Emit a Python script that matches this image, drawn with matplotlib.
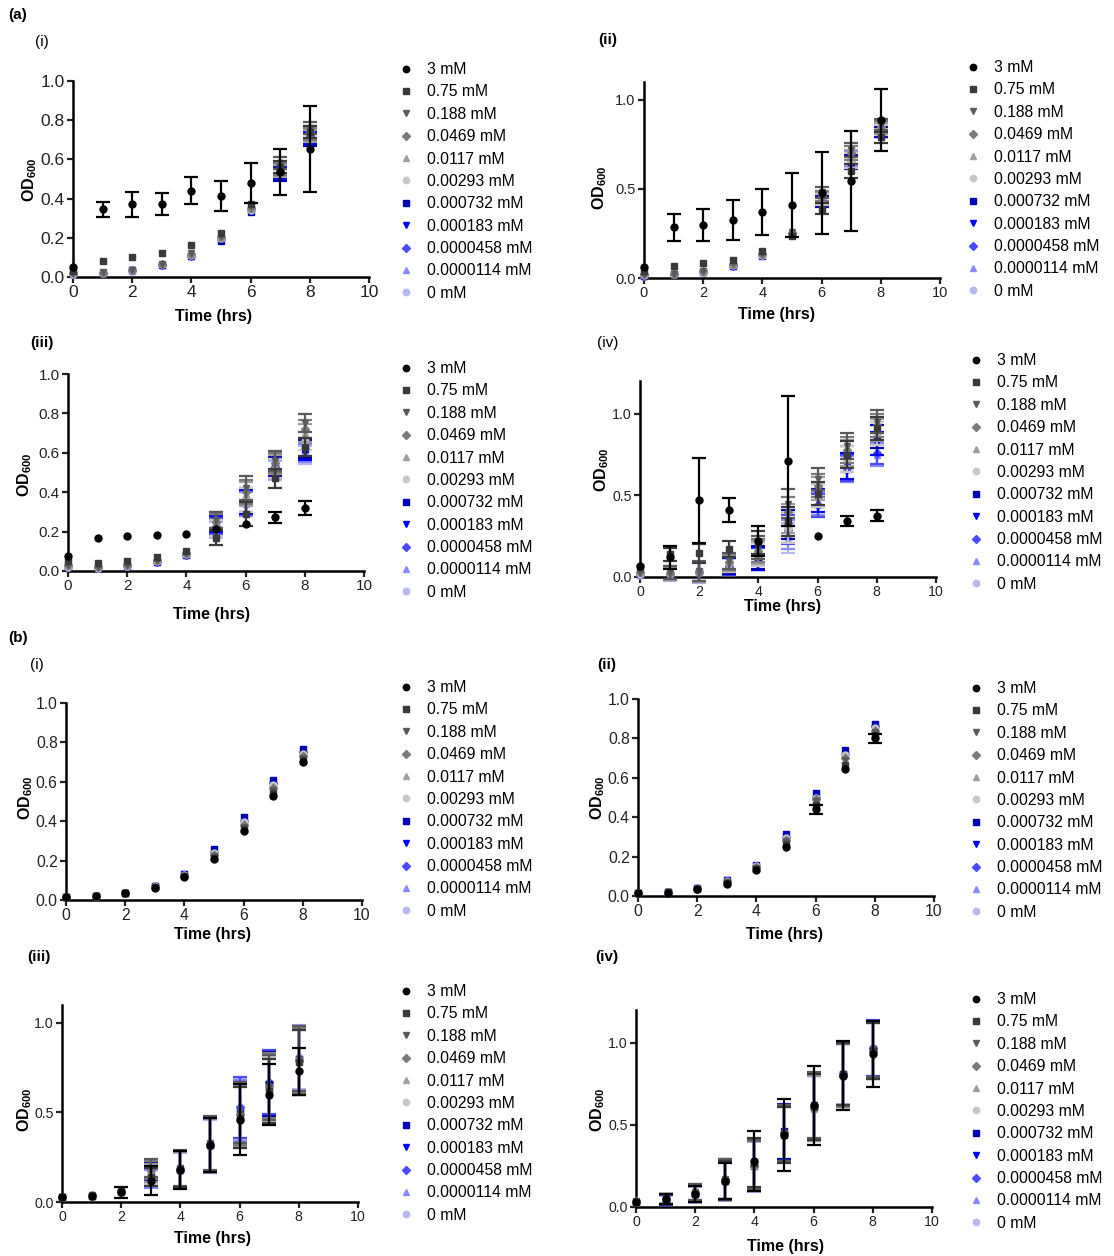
import matplotlib
matplotlib.use("Agg")
import matplotlib.pyplot as plt
import numpy as np
from matplotlib.lines import Line2D

plt.rcParams["font.family"] = ["Liberation Sans", "DejaVu Sans"]
plt.rcParams["mathtext.fontset"] = "custom"
plt.rcParams["mathtext.rm"] = "Liberation Sans"
plt.rcParams["mathtext.bf"] = "Liberation Sans:bold"

TIME = [0, 1, 2, 3, 4, 5, 6, 7, 8]
CONC = ["3 mM", "0.75 mM", "0.188 mM", "0.0469 mM", "0.0117 mM", "0.00293 mM",
        "0.000732 mM", "0.000183 mM", "0.0000458 mM", "0.0000114 mM", "0 mM"]
MARKERS = ["o", "s", "v", "D", "^", "o", "s", "v", "D", "^", "o"]
COLORS = ["#000000", "#3a3a3a", "#5a5a5a", "#7a7a7a", "#9e9e9e", "#c8c8c8",
          "#0000b4", "#0000ff", "#4a4aff", "#8a8aff", "#b8b8f0"]

# ---- (a)(i) ----
A1 = [[0.05, 0.345, 0.37, 0.372, 0.44, 0.415, 0.48, 0.535, 0.655],
      [0.03, 0.08, 0.10, 0.122, 0.165, 0.225, 0.37, 0.56, 0.74],
      [0.02, 0.025, 0.038, 0.068, 0.12, 0.21, 0.36, 0.58, 0.76],
      [0.02, 0.022, 0.036, 0.066, 0.115, 0.205, 0.35, 0.55, 0.73],
      [0.018, 0.022, 0.035, 0.065, 0.112, 0.20, 0.345, 0.54, 0.72],
      [0.015, 0.02, 0.035, 0.064, 0.11, 0.20, 0.34, 0.55, 0.74],
      [0.015, 0.02, 0.034, 0.062, 0.108, 0.185, 0.33, 0.52, 0.70],
      [0.015, 0.02, 0.034, 0.062, 0.106, 0.19, 0.335, 0.53, 0.71],
      [0.014, 0.02, 0.034, 0.06, 0.105, 0.195, 0.34, 0.54, 0.72],
      [0.014, 0.02, 0.033, 0.06, 0.105, 0.195, 0.345, 0.55, 0.73],
      [0.014, 0.02, 0.033, 0.061, 0.106, 0.20, 0.35, 0.56, 0.74]]
A1_SD_3MM = [0.005, 0.04, 0.065, 0.055, 0.07, 0.077, 0.10, 0.118, 0.22]
A1_SD = [0.003, 0.003, 0.004, 0.005, 0.008, 0.01, 0.02, 0.03, 0.03]

# ---- (a)(ii) ----
A2 = [[0.06, 0.285, 0.30, 0.325, 0.37, 0.41, 0.475, 0.545, 0.885],
      [0.04, 0.07, 0.085, 0.10, 0.15, 0.235, 0.39, 0.60, 0.79],
      [0.02, 0.025, 0.04, 0.09, 0.14, 0.26, 0.48, 0.72, 0.86],
      [0.02, 0.022, 0.038, 0.08, 0.135, 0.255, 0.46, 0.70, 0.85],
      [0.018, 0.022, 0.036, 0.075, 0.13, 0.25, 0.45, 0.68, 0.84],
      [0.015, 0.02, 0.035, 0.072, 0.13, 0.25, 0.44, 0.66, 0.83],
      [0.012, 0.02, 0.034, 0.068, 0.125, 0.245, 0.43, 0.65, 0.82],
      [0.012, 0.02, 0.034, 0.068, 0.125, 0.245, 0.435, 0.655, 0.82],
      [0.012, 0.02, 0.035, 0.068, 0.127, 0.25, 0.44, 0.66, 0.82],
      [0.012, 0.02, 0.035, 0.07, 0.128, 0.25, 0.445, 0.665, 0.825],
      [0.012, 0.02, 0.035, 0.07, 0.13, 0.255, 0.45, 0.67, 0.83]]
A2_SD_3MM = [0.01, 0.075, 0.09, 0.11, 0.13, 0.18, 0.23, 0.28, 0.175]
A2_SD = [0.003, 0.003, 0.004, 0.006, 0.008, 0.015, 0.03, 0.04, 0.03]

# ---- (a)(iii) ----
A3 = [[0.075, 0.168, 0.178, 0.182, 0.19, 0.215, 0.237, 0.272, 0.32],
      [0.05, 0.04, 0.05, 0.07, 0.10, 0.17, 0.29, 0.47, 0.63],
      [0.03, 0.02, 0.03, 0.055, 0.09, 0.26, 0.42, 0.56, 0.75],
      [0.03, 0.02, 0.03, 0.055, 0.09, 0.25, 0.40, 0.55, 0.72],
      [0.025, 0.018, 0.028, 0.052, 0.088, 0.25, 0.39, 0.54, 0.70],
      [0.02, 0.016, 0.027, 0.05, 0.085, 0.22, 0.36, 0.52, 0.66],
      [0.02, 0.015, 0.025, 0.048, 0.082, 0.26, 0.36, 0.53, 0.62],
      [0.02, 0.015, 0.025, 0.048, 0.082, 0.24, 0.35, 0.52, 0.61],
      [0.02, 0.015, 0.025, 0.048, 0.08, 0.23, 0.35, 0.53, 0.62],
      [0.02, 0.015, 0.025, 0.048, 0.08, 0.22, 0.34, 0.52, 0.60],
      [0.02, 0.015, 0.025, 0.048, 0.08, 0.21, 0.34, 0.51, 0.59]]
A3_SD_3MM = [0.005, 0.005, 0.005, 0.005, 0.006, 0.015, 0.02, 0.03, 0.035]
A3_SD = [0.004, 0.004, 0.004, 0.005, 0.006, 0.04, 0.06, 0.05, 0.045]

# ---- (a)(iv) ----
A4 = [[0.07, 0.12, 0.47, 0.41, 0.22, 0.71, 0.25, 0.345, 0.375],
      [0.06, 0.14, 0.145, 0.17, 0.21, 0.34, 0.51, 0.75, 0.91],
      [0.03, 0.03, 0.035, 0.10, 0.18, 0.45, 0.60, 0.80, 0.95],
      [0.03, 0.025, 0.033, 0.09, 0.16, 0.40, 0.56, 0.78, 0.93],
      [0.025, 0.022, 0.032, 0.085, 0.15, 0.36, 0.54, 0.76, 0.90],
      [0.02, 0.02, 0.03, 0.08, 0.14, 0.30, 0.50, 0.72, 0.88],
      [0.02, 0.02, 0.03, 0.07, 0.12, 0.32, 0.50, 0.72, 0.86],
      [0.02, 0.02, 0.03, 0.068, 0.115, 0.30, 0.47, 0.68, 0.82],
      [0.02, 0.02, 0.03, 0.065, 0.11, 0.29, 0.44, 0.67, 0.76],
      [0.015, 0.02, 0.03, 0.065, 0.11, 0.26, 0.45, 0.66, 0.75],
      [0.015, 0.02, 0.03, 0.065, 0.11, 0.24, 0.44, 0.66, 0.75]]
A4_SD_3MM = [0.01, 0.07, 0.26, 0.075, 0.09, 0.40, 0.02, 0.03, 0.035]
A4_SD = [0.005, 0.04, 0.06, 0.05, 0.07, 0.09, 0.07, 0.08, 0.07]

# ---- (b)(i) ----
B1 = [[0.015, 0.018, 0.033, 0.062, 0.118, 0.21, 0.35, 0.53, 0.70],
      [0.015, 0.018, 0.034, 0.064, 0.12, 0.215, 0.36, 0.545, 0.71],
      [0.015, 0.019, 0.035, 0.066, 0.122, 0.225, 0.37, 0.56, 0.72],
      [0.015, 0.019, 0.035, 0.067, 0.124, 0.23, 0.38, 0.57, 0.73],
      [0.015, 0.02, 0.036, 0.068, 0.125, 0.235, 0.39, 0.58, 0.735],
      [0.015, 0.02, 0.036, 0.069, 0.126, 0.24, 0.395, 0.585, 0.74],
      [0.016, 0.021, 0.038, 0.072, 0.13, 0.26, 0.42, 0.61, 0.765],
      [0.016, 0.021, 0.038, 0.071, 0.13, 0.255, 0.415, 0.605, 0.76],
      [0.016, 0.02, 0.037, 0.07, 0.128, 0.245, 0.40, 0.595, 0.75],
      [0.016, 0.02, 0.037, 0.07, 0.128, 0.245, 0.40, 0.59, 0.745],
      [0.016, 0.02, 0.037, 0.07, 0.127, 0.24, 0.40, 0.59, 0.745]]
B1_SD_3MM = [0.002, 0.002, 0.003, 0.004, 0.006, 0.01, 0.012, 0.012, 0.012]
B1_SD = [0.002, 0.002, 0.003, 0.004, 0.006, 0.01, 0.012, 0.012, 0.012]

# ---- (b)(ii) ----
B2 = [[0.015, 0.017, 0.033, 0.063, 0.133, 0.25, 0.44, 0.645, 0.80],
      [0.015, 0.018, 0.035, 0.066, 0.138, 0.265, 0.46, 0.665, 0.815],
      [0.015, 0.019, 0.037, 0.07, 0.143, 0.28, 0.48, 0.69, 0.83],
      [0.015, 0.02, 0.038, 0.072, 0.146, 0.285, 0.49, 0.70, 0.84],
      [0.015, 0.02, 0.039, 0.074, 0.148, 0.29, 0.50, 0.71, 0.85],
      [0.015, 0.021, 0.04, 0.076, 0.15, 0.295, 0.50, 0.715, 0.855],
      [0.016, 0.022, 0.042, 0.08, 0.155, 0.315, 0.525, 0.74, 0.875],
      [0.016, 0.022, 0.041, 0.079, 0.154, 0.31, 0.52, 0.735, 0.87],
      [0.016, 0.022, 0.04, 0.078, 0.152, 0.30, 0.505, 0.72, 0.865],
      [0.016, 0.021, 0.04, 0.077, 0.151, 0.30, 0.505, 0.72, 0.86],
      [0.016, 0.021, 0.04, 0.077, 0.15, 0.295, 0.50, 0.715, 0.86]]
B2_SD_3MM = [0.002, 0.002, 0.003, 0.004, 0.006, 0.012, 0.024, 0.02, 0.022]
B2_SD = [0.002, 0.002, 0.003, 0.004, 0.006, 0.01, 0.015, 0.015, 0.015]

# ---- (b)(iii) ----
B3 = [[0.03, 0.035, 0.055, 0.12, 0.18, 0.32, 0.46, 0.60, 0.73],
      [0.03, 0.035, 0.06, 0.14, 0.185, 0.32, 0.47, 0.62, 0.78],
      [0.03, 0.04, 0.06, 0.19, 0.19, 0.33, 0.50, 0.64, 0.80],
      [0.03, 0.038, 0.06, 0.18, 0.185, 0.32, 0.49, 0.65, 0.79],
      [0.028, 0.036, 0.058, 0.16, 0.18, 0.32, 0.48, 0.64, 0.78],
      [0.028, 0.036, 0.058, 0.15, 0.18, 0.32, 0.47, 0.63, 0.80],
      [0.028, 0.035, 0.056, 0.17, 0.18, 0.32, 0.50, 0.66, 0.80],
      [0.028, 0.035, 0.056, 0.15, 0.18, 0.32, 0.48, 0.65, 0.79],
      [0.028, 0.035, 0.056, 0.14, 0.18, 0.32, 0.53, 0.67, 0.80],
      [0.028, 0.035, 0.056, 0.13, 0.18, 0.32, 0.51, 0.66, 0.80],
      [0.028, 0.035, 0.056, 0.14, 0.18, 0.31, 0.52, 0.66, 0.81]]
B3_SD_3MM = [0.01, 0.01, 0.03, 0.08, 0.105, 0.15, 0.20, 0.17, 0.13]
B3_SD = [0.01, 0.01, 0.02, 0.05, 0.10, 0.15, 0.17, 0.18, 0.18]

# ---- (b)(iv) ----
B4 = [[0.03, 0.05, 0.08, 0.16, 0.28, 0.44, 0.62, 0.80, 0.93],
      [0.03, 0.05, 0.08, 0.16, 0.27, 0.44, 0.61, 0.81, 0.95],
      [0.035, 0.05, 0.09, 0.17, 0.26, 0.45, 0.62, 0.81, 0.96],
      [0.035, 0.05, 0.09, 0.17, 0.25, 0.45, 0.61, 0.80, 0.95],
      [0.03, 0.05, 0.085, 0.16, 0.26, 0.45, 0.60, 0.81, 0.96],
      [0.03, 0.05, 0.085, 0.17, 0.25, 0.44, 0.61, 0.80, 0.95],
      [0.03, 0.045, 0.08, 0.16, 0.25, 0.46, 0.61, 0.81, 0.96],
      [0.03, 0.045, 0.08, 0.16, 0.25, 0.45, 0.60, 0.80, 0.96],
      [0.03, 0.045, 0.08, 0.16, 0.25, 0.45, 0.61, 0.81, 0.97],
      [0.03, 0.045, 0.08, 0.16, 0.25, 0.45, 0.61, 0.81, 0.96],
      [0.03, 0.045, 0.08, 0.16, 0.25, 0.45, 0.61, 0.81, 0.96]]
B4_SD_3MM = [0.01, 0.03, 0.05, 0.11, 0.18, 0.22, 0.24, 0.21, 0.20]
B4_SD = [0.01, 0.03, 0.05, 0.12, 0.15, 0.17, 0.20, 0.19, 0.17]

W, H = 1114, 1256
fig = plt.figure(figsize=(W / 100, H / 100), dpi=100)

# layout in pixels: axis left, axis bottom, axis top, ymax, ystep, tick size,
# xlabel centre (x, y), ylabel centre (x, y), legend top-left, tag, tag pos, tag bold
panels = [
    (A1, A1_SD_3MM, A1_SD, 73, 277, 81, 1.0, 0.2, 12.5, (214, 316), (30, 180), (398, 62), "(i)", (35, 42), False),
    (A2, A2_SD_3MM, A2_SD, 644, 278, 82, 1.1, 0.5, 10.5, (776, 314), (600, 188), (965, 60), "(ii)", (598, 40), True),
    (A3, A3_SD_3MM, A3_SD, 68, 571, 374, 1.0, 0.2, 11, (212, 615), (25, 475), (398, 361), "(iii)", (30, 343), True),
    (A4, A4_SD_3MM, A4_SD, 640, 577, 381, 1.2, 0.5, 10.2, (783, 607), (602, 470), (968, 353), "(iv)", (597, 343), False),
    (B1, B1_SD_3MM, B1_SD, 66, 900, 703, 1.0, 0.2, 11.3, (213, 934), (26, 798), (398, 680), "(i)", (30, 665), False),
    (B2, B2_SD_3MM, B2_SD, 638, 896, 699, 1.0, 0.2, 11.3, (785, 934), (598, 798), (968, 681), "(ii)", (597, 665), True),
    (B3, B3_SD_3MM, B3_SD, 62, 1202, 1005, 1.1, 0.5, 10.2, (213, 1238), (25, 1110), (398, 984), "(iii)", (27, 957), True),
    (B4, B4_SD_3MM, B4_SD, 636, 1207, 1010, 1.2, 0.5, 10.2, (785, 1247), (598, 1110), (968, 992), "(iv)", (595, 957), True),
]

AXW = 296
for (means, sd3, sd, x0, yb, yt, ymax, ystep, tfs, xl, yl, lg, tag, tagpos, tagbold) in panels:
    ax = fig.add_axes([x0 / W, 1 - yb / H, AXW / W, (yb - yt) / H])
    px_per_unit = (yb - yt) / ymax
    for i in reversed(range(len(CONC))):
        err = np.array(sd3 if i == 0 else sd, dtype=float)
        # error bars shorter than the marker are hidden behind it (as in Prism)
        err[err * px_per_unit < 4] = np.nan
        ax.errorbar(TIME, means[i], yerr=err, fmt=MARKERS[i], color=COLORS[i],
                    ms=4.2 if MARKERS[i] == "D" else 5, capsize=5, elinewidth=1.6,
                    capthick=1.6, clip_on=False, zorder=3 + (10 - i))
    ax.set_xlim(0, 10)
    ax.set_ylim(0, ymax)
    ax.set_xticks(range(0, 11, 2))
    nt = int(round(1.0 / ystep)) + 1
    ax.set_yticks([k * ystep for k in range(nt)])
    ax.set_yticklabels([f"{k * ystep:.1f}" for k in range(nt)])
    for s in ["top", "right"]:
        ax.spines[s].set_visible(False)
    for s in ["left", "bottom"]:
        ax.spines[s].set_linewidth(1.8)
    ax.tick_params(direction="out", length=4, width=1.6, labelsize=tfs, pad=2,
                   colors="#222222")
    ax.set_xlabel("Time (hrs)", fontsize=11.5, fontweight="bold")
    ax.xaxis.set_label_coords((xl[0] - x0) / AXW, (yb - xl[1]) / (yb - yt),
                              transform=ax.transAxes)
    ax.xaxis.label.set_va("center")
    ax.set_ylabel(r"$\mathbf{OD}_{\mathbf{600}}$", fontsize=11.5)
    ax.yaxis.set_label_coords((yl[0] - x0) / AXW, (yb - yl[1]) / (yb - yt),
                              transform=ax.transAxes)
    ax.yaxis.label.set_va("center")

    handles = [Line2D([], [], ls="none", marker=MARKERS[i], color=COLORS[i],
                      ms=4 if MARKERS[i] == "D" else 4.6) for i in range(len(CONC))]
    ax.legend(handles, CONC, loc="upper left", bbox_to_anchor=(lg[0] / W, 1 - lg[1] / H),
              bbox_transform=fig.transFigure, frameon=False, fontsize=11.3,
              handlelength=1.0, handletextpad=0.85, labelspacing=0.47, borderpad=0,
              borderaxespad=0, numpoints=1)

    fig.text(tagpos[0] / W, 1 - tagpos[1] / H, tag, fontsize=11, ha="left", va="center",
             fontweight="bold" if tagbold else "normal")

fig.text(8 / W, 1 - 15 / H, "(a)", fontsize=11, ha="left", va="center", fontweight="bold")
fig.text(8 / W, 1 - 638 / H, "(b)", fontsize=11, ha="left", va="center", fontweight="bold")

fig.savefig("out.png", dpi=100, facecolor="white")
